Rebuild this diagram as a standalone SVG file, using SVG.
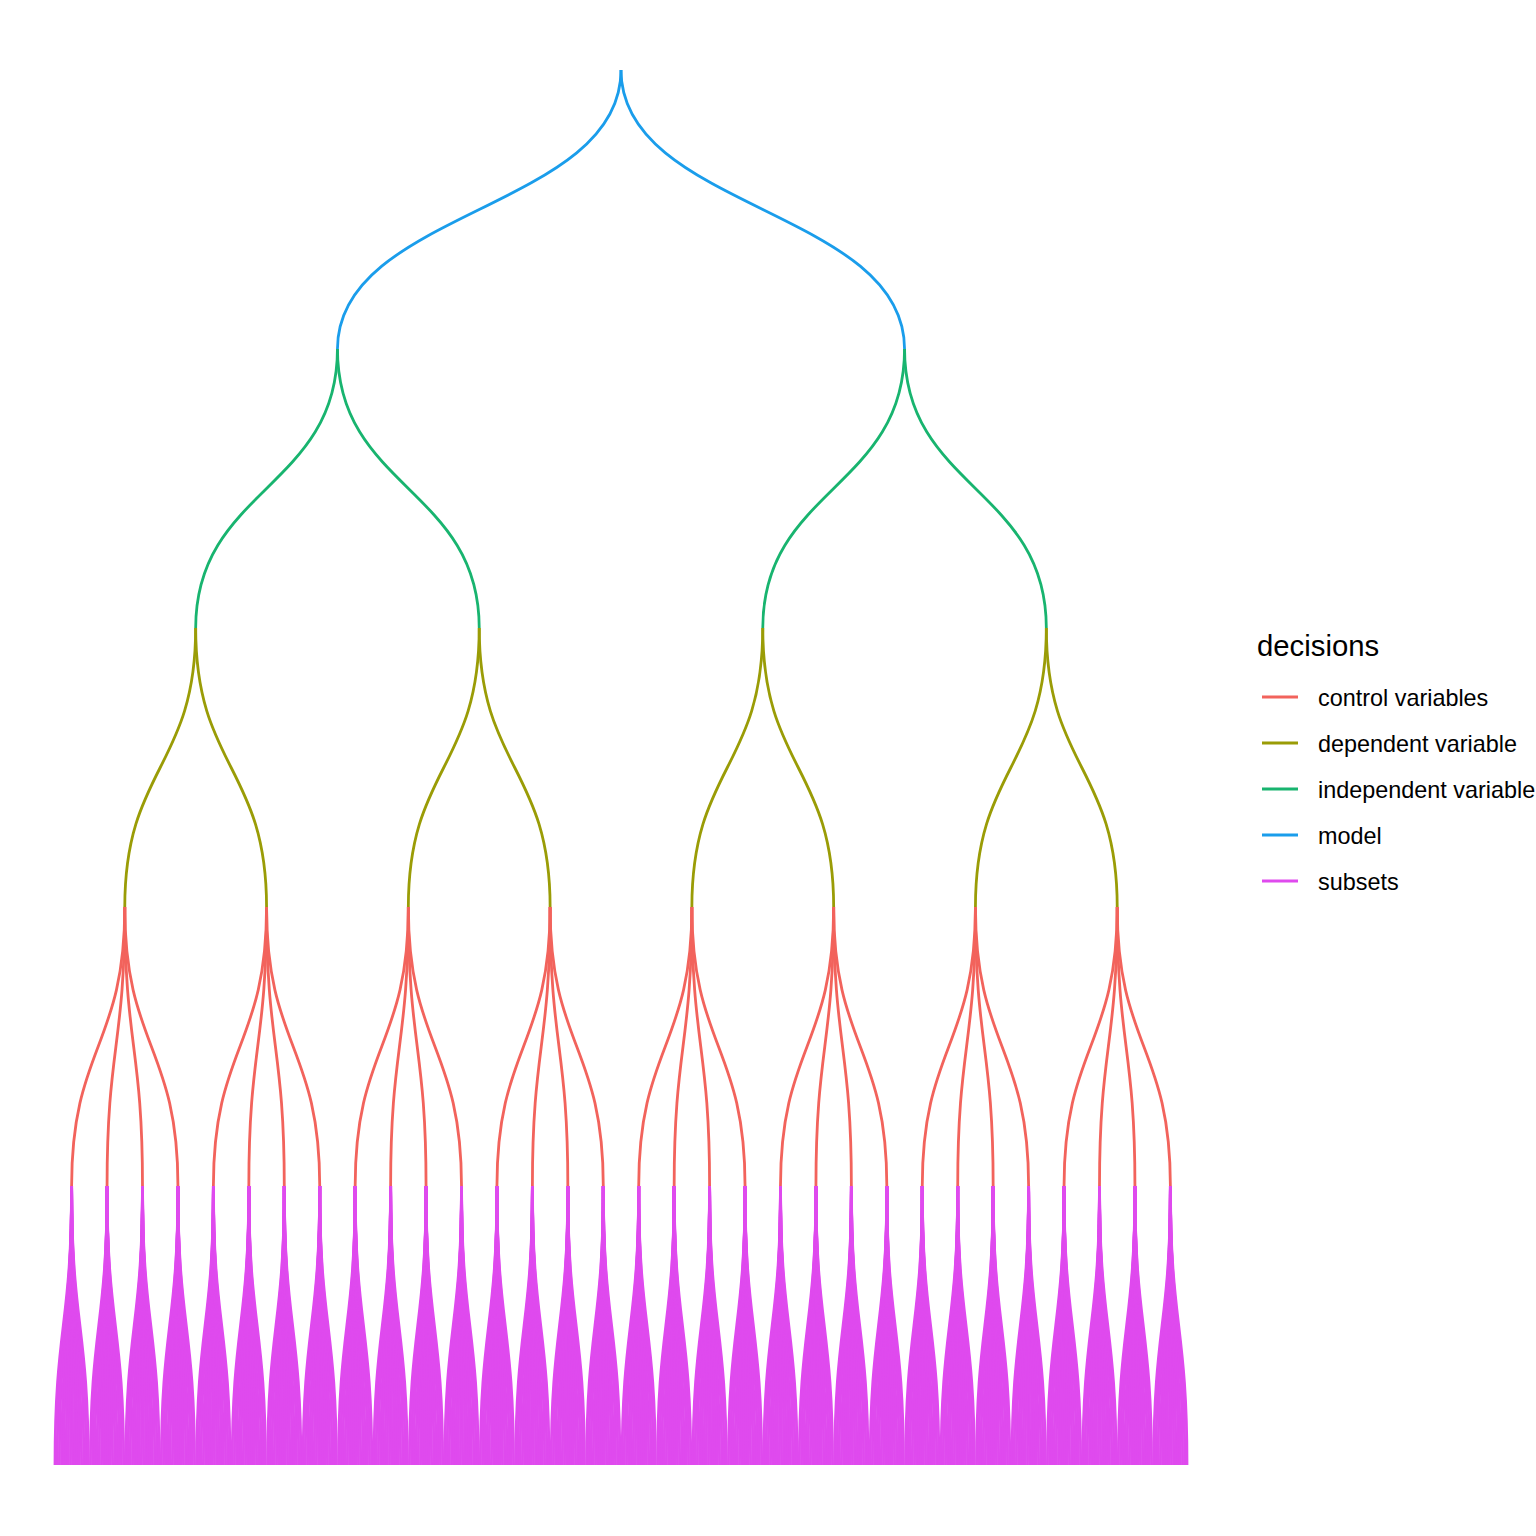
<svg xmlns="http://www.w3.org/2000/svg" xmlns:xlink="http://www.w3.org/1999/xlink" width="1536" height="1536" viewBox="0 0 1536 1536">
<style>
.e{fill:none;stroke-width:2.8;stroke-linecap:butt}
.ctl{stroke:#F2635C}
.dep{stroke:#9A9C06}
.ind{stroke:#18B46F}
.mod{stroke:#1A9DEB}
.sub{stroke:#DF4AEE}
.key{stroke-width:2.8}
.lbl{font-family:"Liberation Sans",Arial,sans-serif;font-size:23.4px;fill:#000}
.ttl{font-family:"Liberation Sans",Arial,sans-serif;font-size:29.3px;fill:#000}
</style>
<defs>
<g id="leafFan" class="e sub">
<path d="M0 0C0 139.5-16.61 139.5-16.61 279"/>
<path d="M0 0C0 139.5-14.40 139.5-14.40 279"/>
<path d="M0 0C0 139.5-12.18 139.5-12.18 279"/>
<path d="M0 0C0 139.5-9.97 139.5-9.97 279"/>
<path d="M0 0C0 139.5-7.75 139.5-7.75 279"/>
<path d="M0 0C0 139.5-5.54 139.5-5.54 279"/>
<path d="M0 0C0 139.5-3.32 139.5-3.32 279"/>
<path d="M0 0C0 139.5-1.11 139.5-1.11 279"/>
<path d="M0 0C0 139.5 1.11 139.5 1.11 279"/>
<path d="M0 0C0 139.5 3.32 139.5 3.32 279"/>
<path d="M0 0C0 139.5 5.54 139.5 5.54 279"/>
<path d="M0 0C0 139.5 7.75 139.5 7.75 279"/>
<path d="M0 0C0 139.5 9.97 139.5 9.97 279"/>
<path d="M0 0C0 139.5 12.18 139.5 12.18 279"/>
<path d="M0 0C0 139.5 14.40 139.5 14.40 279"/>
<path d="M0 0C0 139.5 16.61 139.5 16.61 279"/>
</g>
<g id="ctlFan" class="e ctl">
<path d="M0 0C0 139.5-53.17 139.5-53.17 279"/>
<path d="M0 0C0 139.5-17.72 139.5-17.72 279"/>
<path d="M0 0C0 139.5 17.72 139.5 17.72 279"/>
<path d="M0 0C0 139.5 53.17 139.5 53.17 279"/>
</g>
<g id="l3unit">
<use xlink:href="#ctlFan"/>
<use xlink:href="#leafFan" x="-53.17" y="279"/>
<use xlink:href="#leafFan" x="-17.72" y="279"/>
<use xlink:href="#leafFan" x="17.72" y="279"/>
<use xlink:href="#leafFan" x="53.17" y="279"/>
</g>
<g id="depFan" class="e dep">
<path d="M0 0C0 139.5-70.89 139.5-70.89 279"/>
<path d="M0 0C0 139.5 70.89 139.5 70.89 279"/>
</g>
<g id="indFan" class="e ind">
<path d="M0 0C0 139.5-141.78 139.5-141.78 279"/>
<path d="M0 0C0 139.5 141.78 139.5 141.78 279"/>
</g>
</defs>
<rect width="1536" height="1536" fill="#fff"/>
<g id="connectors">
<g id="edges-model" class="e mod">
<path d="M621 70C621 209.5 337.45 209.5 337.45 349"/>
<path d="M621 70C621 209.5 904.55 209.5 904.55 349"/>
</g>
<g id="edges-independent">
<use xlink:href="#indFan" x="337.45" y="349"/>
<use xlink:href="#indFan" x="904.55" y="349"/>
</g>
<g id="edges-dependent">
<use xlink:href="#depFan" x="195.67" y="628"/>
<use xlink:href="#depFan" x="479.23" y="628"/>
<use xlink:href="#depFan" x="762.77" y="628"/>
<use xlink:href="#depFan" x="1046.33" y="628"/>
</g>
<g id="edges-control-subsets">
<use xlink:href="#l3unit" x="124.78" y="907"/>
<use xlink:href="#l3unit" x="266.56" y="907"/>
<use xlink:href="#l3unit" x="408.34" y="907"/>
<use xlink:href="#l3unit" x="550.12" y="907"/>
<use xlink:href="#l3unit" x="691.88" y="907"/>
<use xlink:href="#l3unit" x="833.66" y="907"/>
<use xlink:href="#l3unit" x="975.44" y="907"/>
<use xlink:href="#l3unit" x="1117.22" y="907"/>
</g>
</g>
<g id="legend">
<text class="ttl" x="1257" y="656">decisions</text>
<g id="legend-control"><line class="key ctl" x1="1262" y1="697" x2="1298" y2="697"/><text class="lbl" x="1318" y="705.5">control variables</text></g>
<g id="legend-dependent"><line class="key dep" x1="1262" y1="743" x2="1298" y2="743"/><text class="lbl" x="1318" y="751.5">dependent variable</text></g>
<g id="legend-independent"><line class="key ind" x1="1262" y1="789" x2="1298" y2="789"/><text class="lbl" x="1318" y="797.5">independent variable</text></g>
<g id="legend-model"><line class="key mod" x1="1262" y1="835" x2="1298" y2="835"/><text class="lbl" x="1318" y="843.5">model</text></g>
<g id="legend-subsets"><line class="key sub" x1="1262" y1="881" x2="1298" y2="881"/><text class="lbl" x="1318" y="889.5">subsets</text></g>
</g>
</svg>
